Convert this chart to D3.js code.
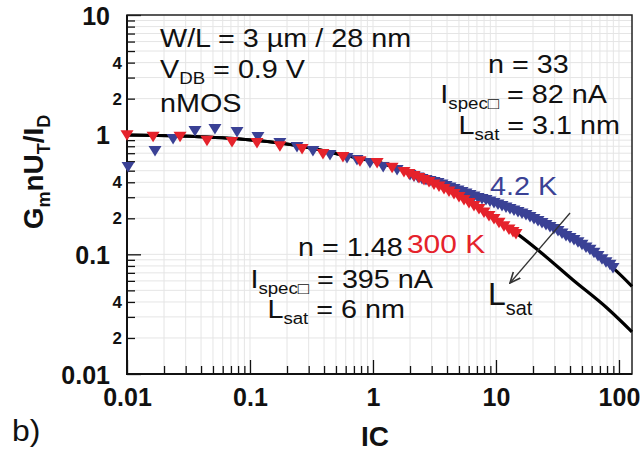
<!DOCTYPE html>
<html><head><meta charset="utf-8">
<script src="https://cdn.jsdelivr.net/npm/d3@7"></script>
<style>
html,body{margin:0;padding:0;background:#fff;}
svg{display:block;font-family:"Liberation Sans",Arial,Helvetica,sans-serif;}
</style></head><body>
<svg id="chart" width="640" height="462"></svg>
<script>
// ---- data ----
const icRed = [0.01,0.0163,0.027,0.0447,0.0714,0.114,0.175,0.265,0.392,0.570,0.784,1.08,1.43,1.786,1.962,2.154,2.366,2.598,2.853,3.133,3.441,3.778,4.148,4.556,5.003,5.493,6.032,6.623,7.275,7.990,8.773,9.632,10.58,11.61,12.76,13.75,14.54];
const gRed  = [0.99,0.96,0.96,0.89,0.87,0.85,0.80,0.76,0.69,0.65,0.60,0.58,0.53,0.488,0.469,0.452,0.435,0.418,0.402,0.383,0.369,0.352,0.335,0.319,0.301,0.285,0.269,0.254,0.239,0.224,0.209,0.197,0.184,0.172,0.161,0.154,0.148];

const icBlue = [0.0102,0.0169,0.0237,0.0357,0.0519,0.0784,0.116,0.175,0.241,0.325,0.447,0.615,0.741,0.945,1.21,1.57,2.00,2.154,2.322,2.503,2.697,2.907,3.133,3.377,3.639,3.923,4.227,4.556,4.911,5.292,5.703,6.146,6.623,7.140,7.694,8.293,8.937,9.632,10.38,11.19,12.06,13.00,14.01,15.10,16.27,17.54,18.90,20.37,21.95,23.66,25.50,27.48,29.61,31.92,34.40,37.08,39.96,43.06,46.42,50.03,53.91,58.10,62.61,67.50,72.74,78.42,84.51,89.38];
const gBlue  = [0.537,0.731,0.920,1.073,1.115,1.053,0.956,0.852,0.789,0.731,0.676,0.638,0.614,0.580,0.537,0.507,0.460,0.447,0.439,0.426,0.418,0.410,0.402,0.395,0.383,0.373,0.362,0.352,0.342,0.332,0.322,0.313,0.304,0.296,0.290,0.285,0.276,0.269,0.261,0.254,0.246,0.239,0.232,0.226,0.219,0.213,0.205,0.197,0.190,0.183,0.176,0.169,0.163,0.157,0.149,0.142,0.137,0.132,0.126,0.120,0.114,0.109,0.103,0.097,0.091,0.086,0.082,0.077];

const icModel300 = [0.01,0.027,0.083,0.255,0.570,1.08,2.32,3.71,5.81,8.45,12.3,14.5,22.8,42.3,79.9,127.6];
const gModel300  = [0.994,0.975,0.920,0.804,0.676,0.591,0.452,0.365,0.279,0.217,0.169,0.151,0.105,0.061,0.0356,0.0225];

const icModel4K = [0.01,0.027,0.083,0.255,0.570,1.08,2.32,3.71,5.81,9.63,15.1,23.7,37.1,58.1,89.4,127.6];
const gModel4K  = [0.994,0.975,0.920,0.804,0.676,0.591,0.460,0.380,0.313,0.269,0.226,0.183,0.142,0.109,0.077,0.054];

const xTickValues = [0.01,0.1,1,10,100];
const xTickLabels = ["0.01","0.1","1","10","100"];
const yTickValues = [0.01,0.1,1,10];
const yTickLabels = ["0.01","0.1","1","10"];
const minorMultipliers = [2,3,4,5,6,7,8,9];
const labelledMinor = [2,4];

// arrow annotation (data coords)
const arrowFrom = [40, 0.2215];
const arrowTo = [13.0, 0.0576];

// ---- layout ----
const svg = d3.select("#chart");
const L = 127, R = 632, T = 15, B = 374;
const x = d3.scaleLog().domain([0.01, 127.6]).range([L, R]);
const y = d3.scaleLog().domain([0.01, 10]).range([B, T]);

const xMinor = [], yMinor = [];
[0.01,0.1,1,10].forEach(d => minorMultipliers.forEach(m => xMinor.push(d*m)));
[0.01,0.1,1].forEach(d => minorMultipliers.forEach(m => yMinor.push(d*m)));

// grid
const grid = svg.append("g").attr("stroke","#e5e5e5").attr("stroke-width",1);
xMinor.concat(xTickValues.slice(1)).forEach(v => {
  grid.append("line").attr("x1",x(v)).attr("x2",x(v)).attr("y1",T).attr("y2",B);
});
yMinor.concat(yTickValues.slice(1,3)).forEach(v => {
  grid.append("line").attr("y1",y(v)).attr("y2",y(v)).attr("x1",L).attr("x2",R);
});

// axes
const fontTick = "bold 25px 'Liberation Sans', Arial, sans-serif";
const yMajorAxis = d3.axisLeft(y).tickValues(yTickValues)
  .tickFormat((d,i)=>yTickLabels[i]).tickSize(-14).tickPadding(17);
const gy = svg.append("g").attr("transform",`translate(${L},0)`).call(yMajorAxis);
const yMinorAxis = d3.axisLeft(y).tickValues(yMinor)
  .tickFormat(d => {const m = Math.round(d/Math.pow(10,Math.floor(Math.log10(d)+1e-9))); return labelledMinor.includes(m)? String(m):"";})
  .tickSize(-8).tickPadding(5);
const gym = svg.append("g").attr("transform",`translate(${L},0)`).call(yMinorAxis);

const xMajorAxis = d3.axisBottom(x).tickValues(xTickValues)
  .tickFormat((d,i)=>xTickLabels[i]).tickSize(-14).tickPadding(14);
const gx = svg.append("g").attr("transform",`translate(0,${B})`).call(xMajorAxis);
const xMinorAxis = d3.axisBottom(x).tickValues(xMinor).tickFormat("").tickSize(-8);
const gxm = svg.append("g").attr("transform",`translate(0,${B})`).call(xMinorAxis);

[gy,gym,gx,gxm].forEach(g => {
  g.select(".domain").remove();
  g.selectAll(".tick line").attr("stroke","#111").attr("stroke-width",1.3);
});
gy.selectAll("text").style("font", fontTick).attr("fill","#111").attr("dy","0.36em");
gx.selectAll("text").style("font", fontTick).attr("fill","#111");
gym.selectAll("text").style("font","bold 17px 'Liberation Sans', Arial, sans-serif").attr("fill","#111");

// frame
svg.append("rect").attr("x",L).attr("y",T).attr("width",R-L).attr("height",B-T)
  .attr("fill","none").attr("stroke","#222").attr("stroke-width",1.5);
svg.append("path").attr("d",`M${L},${T}V${B}H${R}`).attr("fill","none").attr("stroke","#111").attr("stroke-width",2);

// model lines
const line = d3.line().x(d=>x(d[0])).y(d=>y(d[1])).curve(d3.curveMonotoneX);
svg.append("path").datum(icModel300.map((v,i)=>[v,gModel300[i]]))
  .attr("d",line).attr("fill","none").attr("stroke","#000").attr("stroke-width",3.2);
svg.append("path").datum(icModel4K.map((v,i)=>[v,gModel4K[i]]))
  .attr("d",line).attr("fill","none").attr("stroke","#000").attr("stroke-width",3.2);

// markers (downward triangles)
const tri = "M-6.5,-5L6.5,-5L0,5.5Z";
const blueC = "#3a4195", redC = "#e5222b";
svg.append("g").selectAll("path").data(icBlue.map((v,i)=>[v,gBlue[i]])).join("path")
  .attr("d",tri).attr("transform",d=>`translate(${x(d[0])},${y(d[1])})`).attr("fill",blueC);
svg.append("g").selectAll("path").data(icRed.map((v,i)=>[v,gRed[i]])).join("path")
  .attr("d",tri).attr("transform",d=>`translate(${x(d[0])},${y(d[1])})`).attr("fill",redC);

// arrow
const defs = svg.append("defs");
defs.append("marker").attr("id","arr").attr("viewBox","0 0 10 10").attr("refX",9).attr("refY",5)
  .attr("markerWidth",9).attr("markerHeight",9).attr("orient","auto")
  .append("path").attr("d","M0,1L9,5L0,9").attr("fill","none").attr("stroke","#333").attr("stroke-width",1.4);
svg.append("line").attr("x1",x(arrowFrom[0])).attr("y1",y(arrowFrom[1]))
  .attr("x2",x(arrowTo[0])).attr("y2",y(arrowTo[1]))
  .attr("stroke","#333").attr("stroke-width",1.3).attr("marker-end","url(#arr)");

// rich text helper: parts = [[text, isSub], ...]
function rich(px, py, parts, o) {
  o = Object.assign({size:25, sx:1.15, sub:0.65, shift:6, anchor:"start", fill:"#111", weight:"normal"}, o||{});
  const t = svg.append("text")
    .attr("transform", `translate(${px},${py}) scale(${o.sx},1)`)
    .attr("text-anchor", o.anchor).attr("fill", o.fill)
    .style("font-size", o.size+"px").style("font-weight", o.weight);
  let inSub = false;
  parts.forEach(p => {
    const s = t.append("tspan").text(p[0]);
    if (p[1] && !inSub) { s.attr("dy", o.shift).style("font-size", (o.size*o.sub)+"px"); inSub = true; }
    else if (p[1]) { s.style("font-size", (o.size*o.sub)+"px"); }
    else if (!p[1] && inSub) { s.attr("dy", -o.shift); inSub = false; }
  });
  return t;
}

// top-left
rich(160, 47, [["W/L = 3 µm / 28 nm"]]);
rich(160, 78, [["V"],["DB",1],[" = 0.9 V"]]);
rich(160, 112, [["nMOS"]]);
// 4.2 K parameters
rich(488, 73, [["n = 33"]]);
rich(607, 103, [["I"],["spec□",1],[" = 82 nA"]], {anchor:"end"});
rich(620, 134, [["L"],["sat",1],[" = 3.1 nm"]], {anchor:"end"});
rich(490, 195, [["4.2 K"]], {fill: blueC});
// 300 K parameters
rich(298, 256, [["n = 1.48"]]);
rich(407, 253, [["300 K"]], {fill: redC, size:26});
rich(433, 288, [["I"],["spec□",1],[" = 395 nA"]], {anchor:"end"});
rich(405, 318, [["L"],["sat",1],[" = 6 nm"]], {anchor:"end"});
// Lsat arrow label
rich(488, 305, [["L"],["sat",1]], {size:32, sx:1.0, sub:0.62, shift:10});

// axis titles
rich(375, 446, [["IC"]], {size:28, sx:1.0, anchor:"middle", weight:"bold"});
const yt = svg.append("text").attr("transform","translate(43,172) rotate(-90)")
  .attr("text-anchor","middle").attr("fill","#111")
  .style("font-size","28px").style("font-weight","bold");
[["G",0],["m",1],["nU",0],["T",1],["/I",0],["D",1]].forEach((p,i,arr)=>{
  const s = yt.append("tspan").text(p[0]);
  if (p[1]) s.attr("dy",7).style("font-size","18px");
  else if (i>0 && arr[i-1][1]) s.attr("dy",-7);
});
rich(12, 441, [["b)"]], {size:29, sx:1.1});
</script>
</body></html>
